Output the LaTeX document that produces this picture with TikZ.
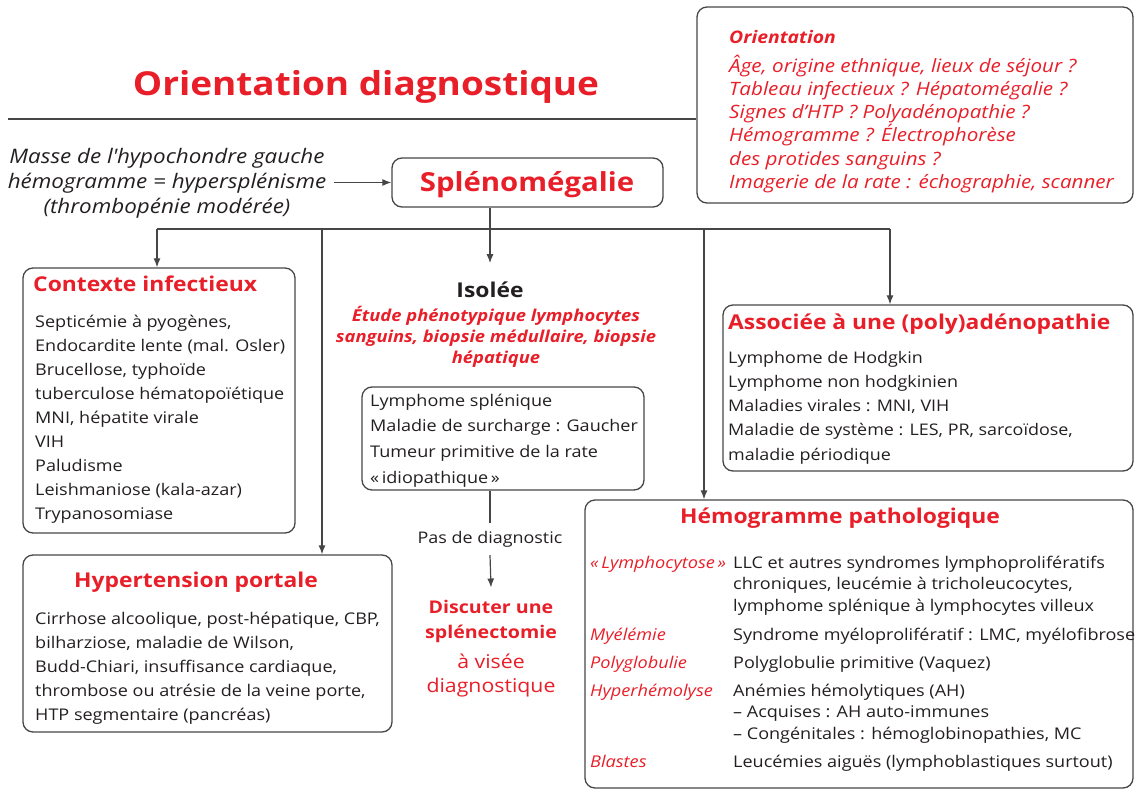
\documentclass[tikz,border=0pt]{standalone}
\usepackage{fontspec}
\setmainfont{Open Sans}[FakeStretch=1.12]
\usetikzlibrary{arrows.meta}
\definecolor{rouge}{RGB}{232,30,40}
\definecolor{trait}{RGB}{70,70,70}
\definecolor{encre}{RGB}{35,31,32}

\begin{document}
\begin{tikzpicture}[x=1pt,y=-1pt,
  cadre/.style={draw=trait, line width=1.3pt, rounded corners=10pt, inner sep=0pt},
  lien/.style={draw=trait, line width=1.2pt},
  fleche/.style={lien, -{Latex[length=9pt,width=7pt]}},
  % multi-line texts are placed by the baseline of their last line
  corps/.style={inner sep=0pt, anchor=base west, align=left, text=encre,
    font=\fontsize{16.1}{24}\selectfont},
  titrebox/.style={inner sep=0pt, anchor=base, text=rouge,
    font=\fontsize{20.4}{24}\selectfont\bfseries},
  etiq/.style={inner sep=0pt, anchor=base west, text=rouge,
    font=\fontsize{16.2}{21.5}\selectfont\itshape},
  detail/.style={inner sep=0pt, anchor=base west, align=left, text=encre,
    font=\fontsize{16.1}{21.5}\selectfont},
]
\useasboundingbox (0,0) rectangle (1135,790);

% --- title and header rule
\node[inner sep=0pt, anchor=base, text=rouge, font=\fontsize{33}{40}\selectfont\bfseries]
  (titre) at (366,95) {Orientation diagnostique};

% --- orientation box (top right)
\node[cadre, minimum width=436pt, minimum height=196pt] (orient) at (915,105) {};
\node[inner sep=0pt, anchor=base west, text=rouge,
  font=\fontsize{17.3}{23.3}\selectfont\bfseries\itshape] (orienttit) at (729,43) {Orientation};
\node[inner sep=0pt, anchor=base west, align=left, text=rouge,
  font=\fontsize{18.4}{23.3}\selectfont\itshape] (orientxt) at (729,188.5)
  {Âge, origine ethnique, lieux de séjour ?\\
   Tableau infectieux ? Hépatomégalie ?\\
   Signes d’HTP ? Polyadénopathie ?\\
   Hémogramme ? Électrophorèse\\
   des protides sanguins ?\\
   Imagerie de la rate : échographie, scanner};

\coordinate (regle) at (8,119);
\draw[lien] (regle) -- (regle -| orient.west);

% --- entry point
\node[cadre, minimum width=271pt, minimum height=49pt] (splen) at (527.5,182.5) {};
\node[inner sep=0pt, anchor=base, text=rouge, font=\fontsize{26.2}{30}\selectfont\bfseries]
  (splentxt) at (527,191) {Splénomégalie};

\node[inner sep=0pt, align=center, text=encre, font=\fontsize{20}{25}\selectfont\itshape]
  (note) at (167,183)
  {Masse de l\textquotesingle hypochondre gauche\\hémogramme = hypersplénisme\\(thrombopénie modérée)};
\draw[fleche] ([xshift=8pt]note.east |- splen.west) -- (splen.west);

% --- distribution bus
\coordinate (b0) at (490,229);
\coordinate (bA) at (157,229);
\coordinate (bB) at (322,229);
\coordinate (bC) at (704,229);
\coordinate (bD) at (890,229);
\draw[lien] (b0 |- splen.south) -- (b0);
\draw[lien] (bA) -- (bD);

% --- infectious context
\node[cadre, minimum width=272pt, minimum height=265pt] (ctx) at (159,400.5) {};
\node[titrebox, anchor=base west] (ctxtit) at (33,291) {Contexte infectieux};
\node[corps] (ctxl) at (35,519)
  {Septicémie à pyogènes,\\
   Endocardite lente (mal. Osler)\\
   Brucellose, typhoïde\\
   tuberculose hématopoïétique\\
   MNI, hépatite virale\\
   VIH\\
   Paludisme\\
   Leishmaniose (kala-azar)\\
   Trypanosomiase};
\draw[fleche] (bA) -- (bA |- ctx.north);

% --- portal hypertension
\node[cadre, minimum width=369pt, minimum height=177pt] (htp) at (207.5,643.5) {};
\node[titrebox] (htptit) at (196,587) {Hypertension portale};
\node[corps] (htpl) at (35,720)
  {Cirrhose alcoolique, post-hépatique, CBP,\\
   bilharziose, maladie de Wilson,\\
   Budd-Chiari, insuffisance cardiaque,\\
   thrombose ou atrésie de la veine porte,\\
   HTP segmentaire (pancréas)};
\draw[fleche] (bB) -- (bB |- htp.north);

% --- isolated splenomegaly
\node[inner sep=0pt, anchor=base, text=encre, font=\fontsize{20.4}{24}\selectfont\bfseries]
  (iso) at (490,297) {Isolée};
\draw[fleche] (b0) -- ([yshift=18pt]iso.north);
\node[inner sep=0pt, anchor=base, align=center, text=rouge,
  font=\fontsize{16.4}{21}\selectfont\bfseries\itshape] (isoexam) at (496,363)
  {Étude phénotypique lymphocytes\\sanguins, biopsie médullaire, biopsie\\hépatique};
\node[cadre, minimum width=282pt, minimum height=103pt] (isobox) at (503,438.5) {};
\node[corps, font=\fontsize{16.1}{25.6}\selectfont] (isol) at (370,483)
  {Lymphome splénique\\
   Maladie de surcharge : Gaucher\\
   Tumeur primitive de la rate\\
   «\,idiopathique\,»};
\node[inner sep=0pt, anchor=base, text=encre, font=\fontsize{16}{18}\selectfont]
  (pasdiag) at (490,543) {Pas de diagnostic};
\draw[lien] (b0 |- isobox.south) -- ([yshift=8pt]pasdiag.north);
\node[inner sep=0pt, anchor=base, align=center, text=rouge,
  font=\fontsize{17.5}{25}\selectfont\bfseries] (disc) at (491,638)
  {Discuter une\\splénectomie};
\node[inner sep=0pt, anchor=base, align=center, text=rouge,
  font=\fontsize{19}{24}\selectfont] (visee) at (491,692)
  {à visée\\diagnostique};
\draw[fleche] ([yshift=-8pt]pasdiag.south) -- ([yshift=12pt]disc.north);

% --- associated lymphadenopathy
\node[cadre, minimum width=410pt, minimum height=166pt] (assoc) at (928,388) {};
\node[titrebox, anchor=base west] (assoctit) at (728,329) {Associée à une (poly)adénopathie};
\node[corps, font=\fontsize{16}{24.2}\selectfont] (assocl) at (728,460)
  {Lymphome de Hodgkin\\
   Lymphome non hodgkinien\\
   Maladies virales : MNI, VIH\\
   Maladie de système : LES, PR, sarcoïdose,\\
   maladie périodique};
\draw[fleche] (bD) -- (bD |- assoc.north);

% --- abnormal blood count
\node[cadre, minimum width=548pt, minimum height=288pt] (hemo) at (859,644) {};
\node[titrebox] (hemotit) at (840,523) {Hémogramme pathologique};
\draw[fleche] (bC) -- (bC |- hemo.north);

\node[etiq] (e1) at (590,568) {«\,Lymphocytose\,»};
\node[detail] (d1) at (733,611)
  {LLC et autres syndromes lymphoprolifératifs\\
   chroniques, leucémie à tricholeucocytes,\\
   lymphome splénique à lymphocytes villeux};
\node[etiq] (e2) at (590,640) {Myélémie};
\node[detail] (d2) at (733,640) {Syndrome myéloprolifératif : LMC, myélofibrose};
\node[etiq] (e3) at (590,668) {Polyglobulie};
\node[detail] (d3) at (733,668) {Polyglobulie primitive (Vaquez)};
\node[etiq] (e4) at (590,696) {Hyperhémolyse};
\node[detail] (d4) at (733,739)
  {Anémies hémolytiques (AH)\\
   – Acquises : AH auto-immunes\\
   – Congénitales : hémoglobinopathies, MC};
\node[etiq] (e5) at (590,767) {Blastes};
\node[detail] (d5) at (733,767) {Leucémies aiguës (lymphoblastiques surtout)};

\end{tikzpicture}
\end{document}
